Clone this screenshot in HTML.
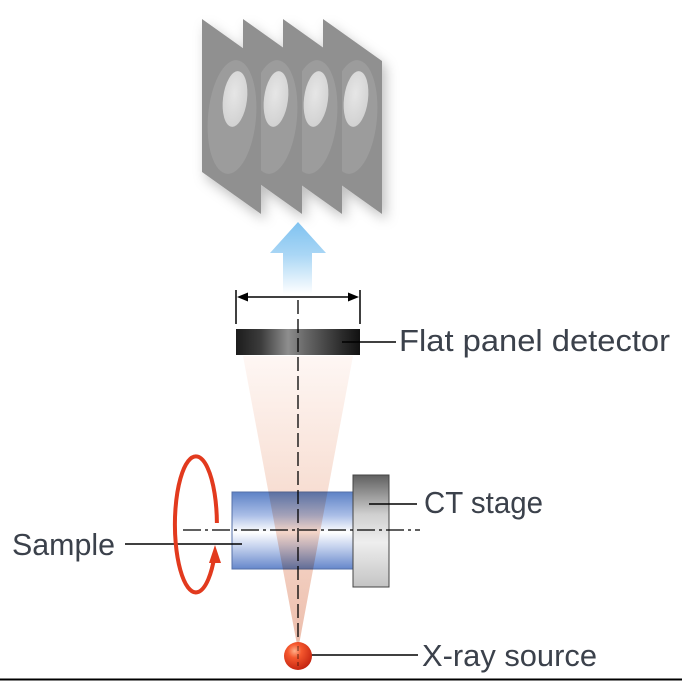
<!DOCTYPE html>
<html><head><meta charset="utf-8"><style>
html,body{margin:0;padding:0;background:#fff;}
svg{display:block;}
text{font-family:"Liberation Sans",sans-serif;font-size:31px;fill:#3b414b;}
</style></head><body>
<svg width="682" height="681" viewBox="0 0 682 681" xmlns="http://www.w3.org/2000/svg">
<defs>
<filter id="sh" x="-30%" y="-20%" width="170%" height="150%">
<feDropShadow dx="4" dy="6" stdDeviation="6" flood-color="#000" flood-opacity="0.25"/>
</filter>
<radialGradient id="inner" cx="0.45" cy="0.4" r="0.6">
<stop offset="0" stop-color="#e6e6e6"/><stop offset="1" stop-color="#d2d2d2"/>
</radialGradient>
<linearGradient id="arrow" x1="0" y1="0" x2="0" y2="1">
<stop offset="0" stop-color="#7fc2f0"/><stop offset="0.45" stop-color="#a9d6f5"/><stop offset="1" stop-color="#ffffff"/>
</linearGradient>
<linearGradient id="cone" x1="0" y1="0" x2="0" y2="1">
<stop offset="0" stop-color="#fef7f4"/><stop offset="0.5" stop-color="#f7dcd0"/><stop offset="1" stop-color="#ecbcaa"/>
</linearGradient>
<linearGradient id="det" x1="0" y1="0" x2="1" y2="0">
<stop offset="0" stop-color="#1c1c1c"/><stop offset="0.2" stop-color="#3c3c3c"/><stop offset="0.42" stop-color="#8e8e8e"/><stop offset="0.55" stop-color="#6a6a6a"/><stop offset="0.85" stop-color="#2c2c2c"/><stop offset="1" stop-color="#111"/>
</linearGradient>
<linearGradient id="cyl" x1="0" y1="0" x2="0" y2="1">
<stop offset="0" stop-color="#5d82c6"/><stop offset="0.3" stop-color="#a9bde6"/><stop offset="0.52" stop-color="#ffffff"/><stop offset="0.7" stop-color="#c9d5ef"/><stop offset="1" stop-color="#6687cb"/>
</linearGradient>
<linearGradient id="stg" x1="0" y1="0" x2="0" y2="1">
<stop offset="0" stop-color="#606060"/><stop offset="0.35" stop-color="#cfcfcf"/><stop offset="0.6" stop-color="#eeeeee"/><stop offset="1" stop-color="#c4c4c4"/>
</linearGradient>
<radialGradient id="ball" cx="0.38" cy="0.32" r="0.7">
<stop offset="0" stop-color="#ffb08a"/><stop offset="0.35" stop-color="#f5582e"/><stop offset="1" stop-color="#c42410"/>
</radialGradient>
</defs>

<!-- panels -->
<g filter="url(#sh)">
<g transform="translate(121,0)">
<polygon points="202,19 261,61 261,214 202,172" fill="#909090"/>
<ellipse cx="232" cy="117" rx="24" ry="57" fill="#9c9c9c" transform="rotate(5 232 117)"/>
<ellipse cx="235" cy="99" rx="12" ry="28" fill="url(#inner)" transform="rotate(7 235 99)"/>
</g>
<g transform="translate(81,0)">
<polygon points="202,19 261,61 261,214 202,172" fill="#909090"/>
<ellipse cx="232" cy="117" rx="24" ry="57" fill="#9c9c9c" transform="rotate(5 232 117)"/>
<ellipse cx="235" cy="99" rx="12" ry="28" fill="url(#inner)" transform="rotate(7 235 99)"/>
</g>
<g transform="translate(41,0)">
<polygon points="202,19 261,61 261,214 202,172" fill="#909090"/>
<ellipse cx="232" cy="117" rx="24" ry="57" fill="#9c9c9c" transform="rotate(5 232 117)"/>
<ellipse cx="235" cy="99" rx="12" ry="28" fill="url(#inner)" transform="rotate(7 235 99)"/>
</g>
<g>
<polygon points="202,19 261,61 261,214 202,172" fill="#909090"/>
<ellipse cx="232" cy="117" rx="24" ry="57" fill="#9c9c9c" transform="rotate(5 232 117)"/>
<ellipse cx="235" cy="99" rx="12" ry="28" fill="url(#inner)" transform="rotate(7 235 99)"/>
</g>
</g>

<!-- blue arrow -->
<polygon points="298,222 326,253 312,253 312,294 283,294 283,253 270,253" fill="url(#arrow)"/>

<!-- dimension -->
<line x1="236" y1="290" x2="236" y2="324" stroke="#000" stroke-width="1.5"/>
<line x1="360" y1="290" x2="360" y2="324" stroke="#000" stroke-width="1.5"/>
<line x1="244" y1="297" x2="352" y2="297" stroke="#000" stroke-width="1.5"/>
<polygon points="237,297 248,292.5 248,301.5" fill="#000"/>
<polygon points="359,297 348,292.5 348,301.5" fill="#000"/>

<!-- cylinder -->
<rect x="232" y="492" width="121" height="77" fill="url(#cyl)" stroke="#5570a8" stroke-width="1"/>

<!-- cone -->
<polygon points="298,650 243,356 353,356" fill="url(#cone)" style="mix-blend-mode:multiply"/>

<!-- detector -->
<rect x="236" y="329" width="124" height="26" fill="url(#det)"/>
<line x1="342" y1="342" x2="396" y2="342" stroke="#000" stroke-width="1.5"/>

<!-- stage -->
<rect x="353" y="475" width="36" height="112" fill="url(#stg)" stroke="#444" stroke-width="1"/>

<!-- axes -->
<line x1="298" y1="300" x2="298" y2="652" stroke="#000" stroke-width="1.3" stroke-dasharray="14,5"/>
<line x1="183" y1="530" x2="420" y2="530" stroke="#000" stroke-width="1.3" stroke-dasharray="18,4,3,4"/>

<!-- leaders -->
<line x1="369" y1="504" x2="417" y2="504" stroke="#000" stroke-width="1.5"/>
<line x1="125" y1="544" x2="242" y2="544" stroke="#000" stroke-width="1.5"/>
<line x1="310" y1="655" x2="418" y2="655" stroke="#000" stroke-width="1.5"/>

<!-- rotation arrow -->
<path d="M 216.9 523 A 21 68 0 1 0 214.5 556" fill="none" stroke="#e23a1e" stroke-width="4"/>
<polygon points="215,545 209,563 221,563" fill="#e23a1e"/>

<!-- source -->
<circle cx="298" cy="656" r="14" fill="url(#ball)"/>
<line x1="298" y1="646" x2="298" y2="666" stroke="#000" stroke-width="1" stroke-dasharray="5,3" opacity="0.6"/>

<!-- bottom line -->
<line x1="0" y1="679.5" x2="682" y2="679.5" stroke="#000" stroke-width="2"/>

<!-- labels -->
<text x="399" y="351" textLength="271" lengthAdjust="spacingAndGlyphs">Flat panel detector</text>
<text x="424" y="513" textLength="119" lengthAdjust="spacingAndGlyphs">CT stage</text>
<text x="12" y="555" textLength="103" lengthAdjust="spacingAndGlyphs">Sample</text>
<text x="422" y="666" textLength="175" lengthAdjust="spacingAndGlyphs">X-ray source</text>
</svg>
</body></html>
